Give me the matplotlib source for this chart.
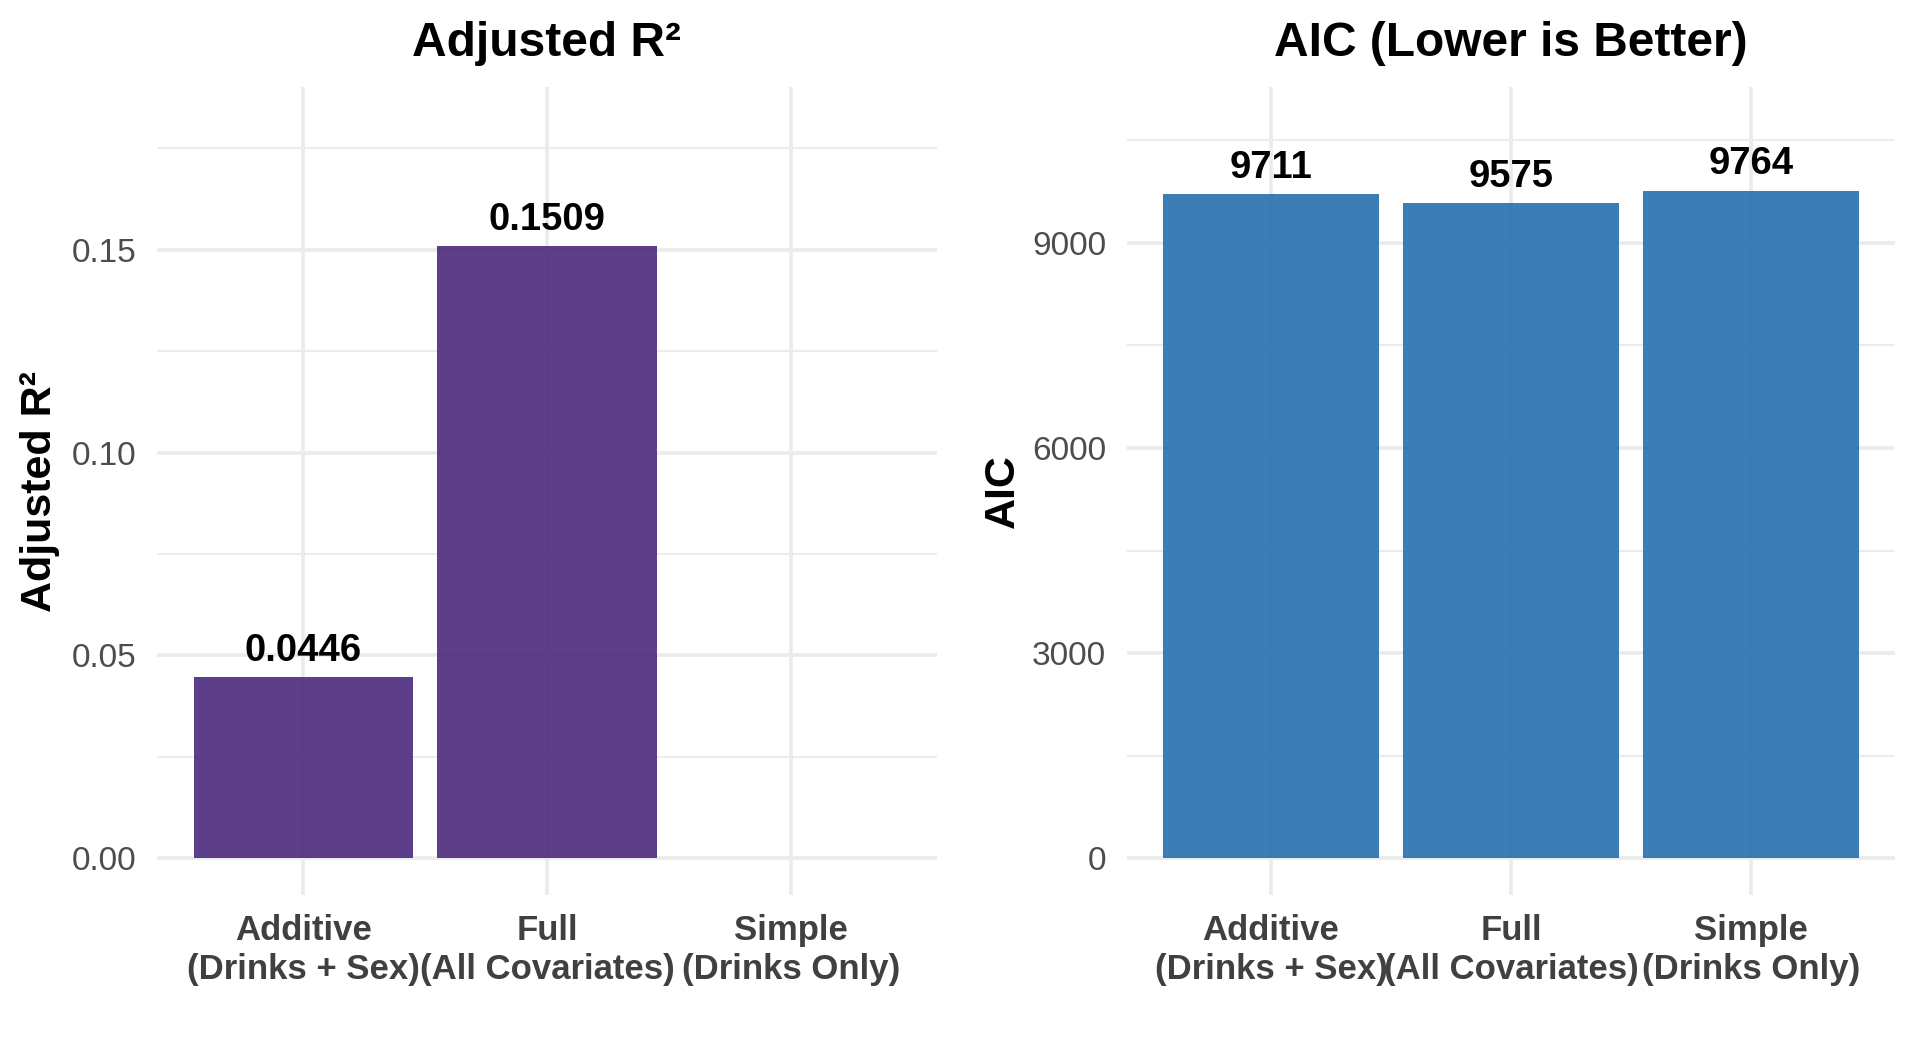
import numpy as np
import matplotlib
matplotlib.use("Agg")
import matplotlib.pyplot as plt

# Model comparison data
models = ["Additive\n(Drinks + Sex)", "Full\n(All Covariates)", "Simple\n(Drinks Only)"]
adj_r2 = [0.0446, 0.1509, np.nan]
adj_r2_labels = ["0.0446", "0.1509", ""]
aic = [9711, 9575, 9764]
aic_labels = ["9711", "9575", "9764"]

r2_ticks = [0.00, 0.05, 0.10, 0.15]
r2_tick_labels = ["0.00", "0.05", "0.10", "0.15"]
aic_ticks = [0, 3000, 6000, 9000]
aic_tick_labels = ["0", "3000", "6000", "9000"]

plt.rcParams["font.family"] = ["Liberation Sans", "DejaVu Sans"]

GRID = "#EBEBEB"
W, H = 1920, 1056


def px_axes(fig, x0, y0, x1, y1):
    """Add axes given pixel box (top-left origin)"""
    return fig.add_axes([x0 / W, (H - y1) / H, (x1 - x0) / W, (y1 - y0) / H])


def style_panel(ax, values, labels, ticks, tick_labels, top_mult, color, title, ylabel, label_x):
    pos = np.arange(len(models))
    top = np.nanmax(values) * top_mult
    ax.set_xlim(-0.6, len(models) - 0.4)
    ax.set_ylim(-0.05 * top, 1.05 * top)

    # grid (major + minor at midpoints, vertical only at categories)
    for t in ticks:
        ax.axhline(t, color=GRID, lw=2.6, zorder=0)
    minor = [t + (ticks[1] - ticks[0]) / 2 for t in ticks]
    for t in minor:
        if t < 1.05 * top:
            ax.axhline(t, color=GRID, lw=1.3, zorder=0)
    for p in pos:
        ax.axvline(p, color=GRID, lw=2.6, zorder=0)

    bars = ax.bar(pos, np.nan_to_num(values), width=0.9, color=color, alpha=0.9, zorder=2)
    for b, lab, v in zip(bars, labels, values):
        if lab:
            ax.annotate(lab, (b.get_x() + b.get_width() / 2, v), xytext=(0, 6),
                        textcoords="offset points", ha="center", va="bottom",
                        fontsize=27.5, fontweight="bold", color="black", zorder=3)

    ax.set_yticks(ticks)
    ax.set_yticklabels(tick_labels, fontsize=24, color="#4D4D4D")
    ax.set_xticks(pos)
    ax.set_xticklabels(models, fontsize=25, fontweight="bold", color="#404040", linespacing=1.2)
    ax.tick_params(axis="both", length=0)
    ax.tick_params(axis="y", pad=15)
    ax.tick_params(axis="x", pad=14)
    for s in ax.spines.values():
        s.set_visible(False)
    ax.set_facecolor("white")

    ax.set_title(title, fontsize=34.5, fontweight="bold", pad=22)
    ax.set_ylabel(ylabel, fontsize=31, fontweight="bold")
    ax.yaxis.label.set_va("center")
    ax.yaxis.set_label_coords(label_x, 0.5)


fig = plt.figure(figsize=(W / 100, H / 100), dpi=100, facecolor="white")

ax1 = px_axes(fig, 157, 87, 937, 895)
style_panel(ax1, adj_r2, adj_r2_labels, r2_ticks, r2_tick_labels, 1.2,
            "#4A2A7B", "Adjusted R²", "Adjusted R²", (40 - 157) / 780)

ax2 = px_axes(fig, 1127, 87, 1895, 895)
style_panel(ax2, aic, aic_labels, aic_ticks, aic_tick_labels, 1.1,
            "#276FAD", "AIC (Lower is Better)", "AIC", (1003 - 1127) / 768)

fig.savefig("out.png", dpi=100, facecolor="white")
